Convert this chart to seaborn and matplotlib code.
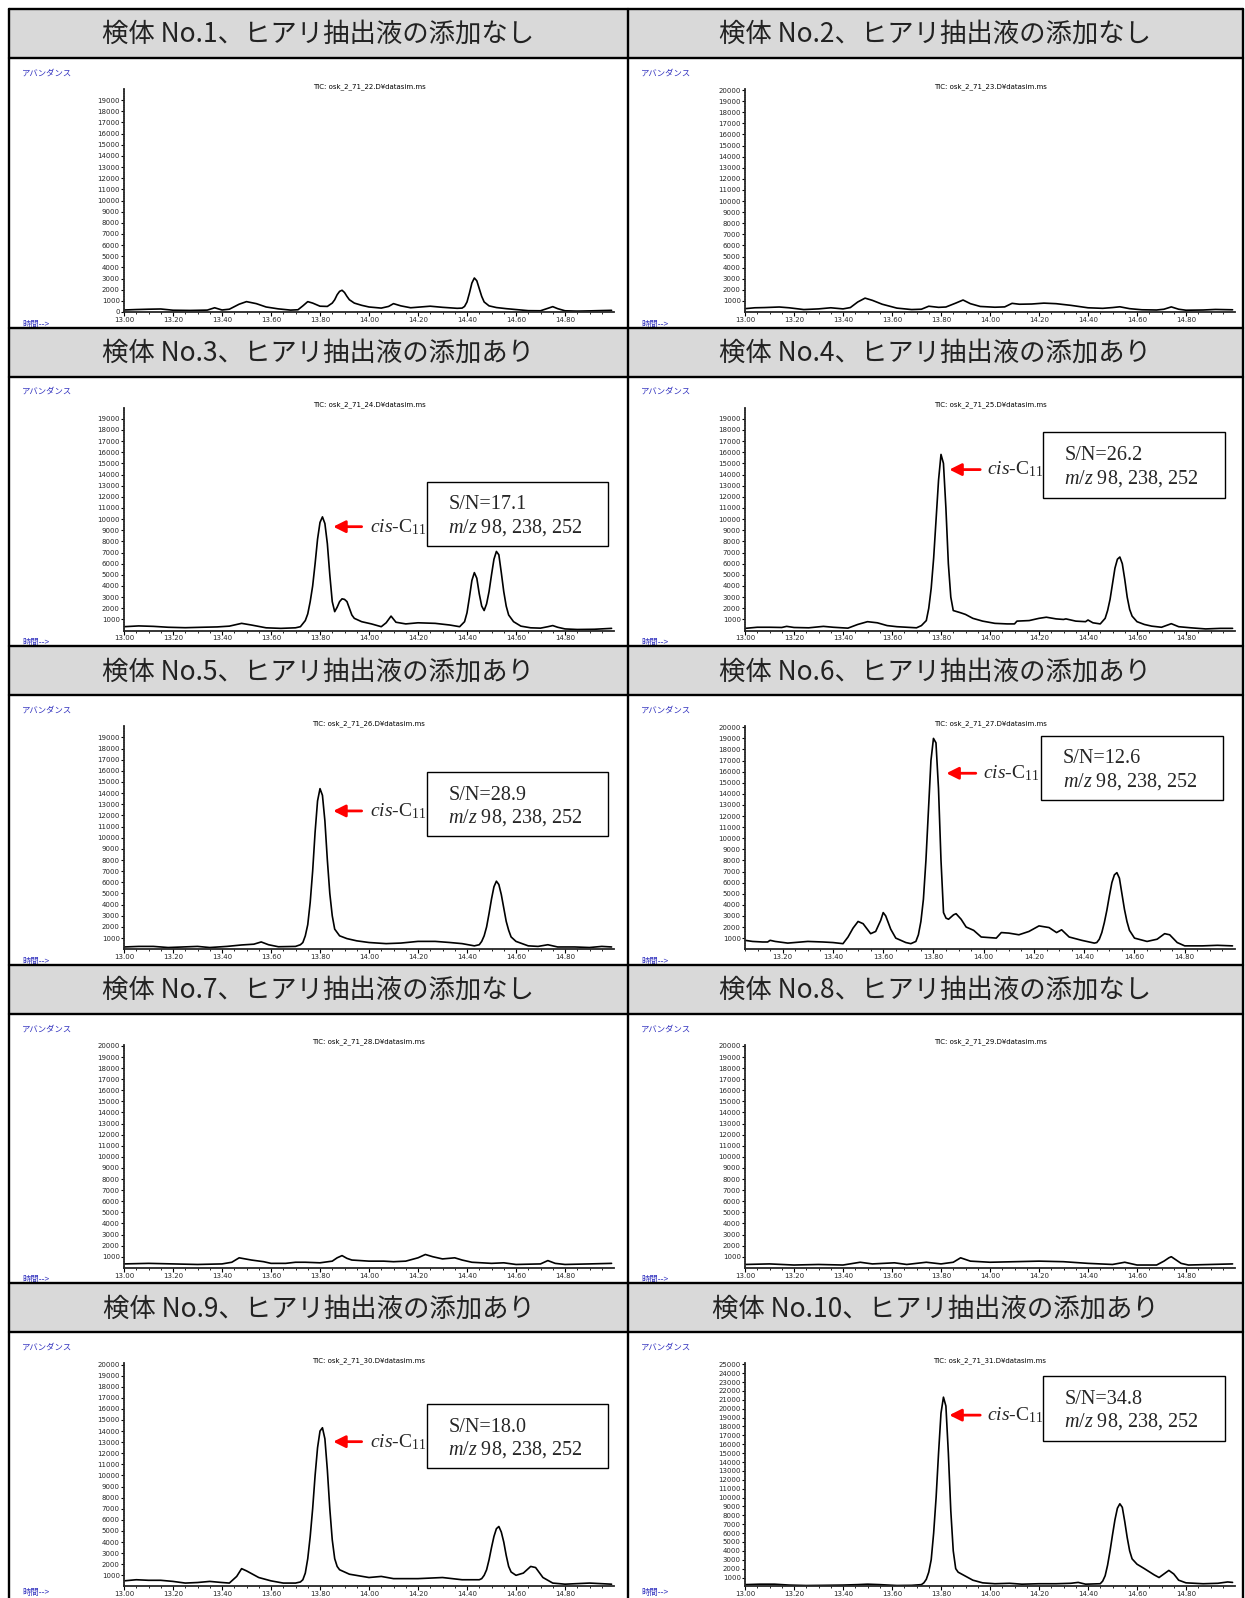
import matplotlib
matplotlib.use("Agg")
import matplotlib.pyplot as plt
import seaborn as sns
from matplotlib.lines import Line2D
from matplotlib.patches import Rectangle
from matplotlib.ticker import MultipleLocator, FixedLocator, FormatStrFormatter

# --- chromatogram traces (retention time [min], abundance) ---
trace_01 = [(13.00, 180), (13.05, 220), (13.10, 250), (13.15, 270), (13.20, 160), (13.27, 140),
            (13.34, 170), (13.37, 380), (13.40, 180), (13.43, 250), (13.47, 700), (13.50, 930),
            (13.54, 750), (13.58, 450), (13.63, 280), (13.68, 170), (13.71, 200), (13.73, 550),
            (13.75, 930), (13.77, 800), (13.80, 520), (13.83, 500), (13.85, 800), (13.86, 1100),
            (13.87, 1550), (13.88, 1850), (13.89, 1950), (13.90, 1750), (13.91, 1400), (13.92, 1100),
            (13.94, 800), (13.97, 600), (14.00, 450), (14.05, 350), (14.08, 500), (14.10, 750),
            (14.13, 550), (14.17, 380), (14.21, 450), (14.25, 520), (14.30, 420), (14.36, 330),
            (14.38, 350), (14.39, 500), (14.40, 900), (14.41, 1700), (14.42, 2600), (14.43, 3050),
            (14.44, 2800), (14.45, 2100), (14.46, 1400), (14.47, 900), (14.49, 550), (14.52, 400),
            (14.56, 300), (14.60, 220), (14.65, 120), (14.70, 110), (14.73, 330), (14.75, 480),
            (14.77, 300), (14.80, 110), (14.85, 80), (14.90, 100), (14.95, 130), (14.99, 150)]
trace_02 = [(13.00, 300), (13.04, 380), (13.08, 400), (13.14, 450), (13.18, 380), (13.24, 220),
            (13.30, 280), (13.35, 380), (13.40, 280), (13.43, 400), (13.46, 900), (13.49, 1250),
            (13.52, 1050), (13.56, 700), (13.62, 350), (13.68, 220), (13.72, 250), (13.75, 520),
            (13.79, 420), (13.82, 450), (13.86, 800), (13.89, 1080), (13.92, 750), (13.96, 500),
            (14.02, 430), (14.06, 460), (14.09, 780), (14.12, 700), (14.17, 720), (14.22, 800),
            (14.27, 750), (14.33, 600), (14.40, 380), (14.46, 330), (14.50, 400), (14.53, 470),
            (14.57, 300), (14.62, 200), (14.68, 180), (14.71, 250), (14.74, 460), (14.77, 250),
            (14.80, 160), (14.87, 180), (14.92, 230), (14.99, 200)]
trace_03 = [(13.00, 350), (13.06, 420), (13.12, 380), (13.18, 300), (13.25, 260), (13.32, 300),
            (13.38, 330), (13.43, 400), (13.48, 650), (13.52, 500), (13.58, 250), (13.64, 200),
            (13.70, 250), (13.72, 350), (13.74, 900), (13.75, 1500), (13.76, 2600), (13.77, 4000),
            (13.78, 6000), (13.79, 8200), (13.80, 9700), (13.81, 10200), (13.82, 9600), (13.83, 7800),
            (13.84, 5000), (13.85, 2600), (13.86, 1700), (13.87, 2100), (13.88, 2600), (13.89, 2850),
            (13.90, 2800), (13.91, 2600), (13.92, 2000), (13.93, 1400), (13.94, 1100), (13.97, 800),
            (14.01, 600), (14.05, 350), (14.07, 700), (14.09, 1300), (14.11, 750), (14.15, 600),
            (14.20, 700), (14.27, 650), (14.33, 500), (14.37, 350), (14.39, 800), (14.40, 1600),
            (14.41, 3000), (14.42, 4500), (14.43, 5200), (14.44, 4700), (14.45, 3300), (14.46, 2200),
            (14.47, 1800), (14.48, 2400), (14.49, 3500), (14.50, 5000), (14.51, 6400), (14.52, 7100),
            (14.53, 6800), (14.54, 5200), (14.55, 3500), (14.56, 2200), (14.57, 1400), (14.59, 800),
            (14.62, 400), (14.66, 250), (14.70, 220), (14.73, 350), (14.75, 450), (14.77, 300),
            (14.80, 150), (14.85, 100), (14.92, 120), (14.99, 200)]
trace_04 = [(13.00, 200), (13.05, 300), (13.10, 300), (13.15, 280), (13.17, 380), (13.20, 280),
            (13.26, 250), (13.32, 380), (13.36, 300), (13.42, 220), (13.46, 550), (13.50, 800),
            (13.54, 700), (13.58, 450), (13.62, 350), (13.66, 300), (13.70, 250), (13.72, 450),
            (13.74, 900), (13.75, 2000), (13.76, 3800), (13.77, 6500), (13.78, 10000), (13.79, 13500),
            (13.80, 15800), (13.81, 15000), (13.82, 11000), (13.83, 6000), (13.84, 3000), (13.85, 1800),
            (13.88, 1600), (13.90, 1450), (13.93, 1100), (13.97, 850), (14.02, 650), (14.07, 600),
            (14.10, 600), (14.11, 850), (14.16, 900), (14.20, 1100), (14.23, 1200), (14.27, 1050),
            (14.30, 1000), (14.31, 1050), (14.35, 850), (14.39, 800), (14.40, 950), (14.42, 700),
            (14.45, 600), (14.47, 1100), (14.48, 1800), (14.49, 2800), (14.50, 4200), (14.51, 5600),
            (14.52, 6400), (14.53, 6600), (14.54, 6000), (14.55, 4600), (14.56, 3000), (14.57, 1900),
            (14.58, 1300), (14.60, 800), (14.63, 550), (14.66, 400), (14.70, 300), (14.74, 620),
            (14.77, 350), (14.82, 250), (14.88, 150), (14.94, 200), (14.99, 200)]
trace_05 = [(13.00, 200), (13.06, 250), (13.12, 250), (13.18, 150), (13.24, 200), (13.30, 250),
            (13.35, 150), (13.42, 250), (13.48, 380), (13.53, 450), (13.56, 650), (13.59, 400),
            (13.63, 220), (13.70, 250), (13.72, 400), (13.73, 600), (13.74, 1200), (13.75, 2200),
            (13.76, 4200), (13.77, 7000), (13.78, 10500), (13.79, 13300), (13.80, 14400),
            (13.81, 13800), (13.82, 11500), (13.83, 8000), (13.84, 5000), (13.85, 3000), (13.86, 1800),
            (13.88, 1200), (13.91, 950), (13.95, 750), (14.00, 600), (14.07, 500), (14.13, 550),
            (14.20, 700), (14.27, 700), (14.33, 600), (14.38, 500), (14.43, 300), (14.45, 400),
            (14.46, 700), (14.47, 1200), (14.48, 2000), (14.49, 3200), (14.50, 4500), (14.51, 5600),
            (14.52, 6100), (14.53, 5800), (14.54, 4900), (14.55, 3700), (14.56, 2500), (14.57, 1700),
            (14.58, 1100), (14.60, 700), (14.65, 300), (14.69, 250), (14.73, 400), (14.77, 200),
            (14.84, 200), (14.90, 150), (14.95, 250), (14.99, 200)]
trace_06 = [(13.05, 800), (13.08, 700), (13.12, 650), (13.14, 650), (13.15, 800), (13.17, 700),
            (13.22, 550), (13.30, 700), (13.36, 650), (13.40, 600), (13.44, 500), (13.46, 1100),
            (13.48, 1900), (13.50, 2500), (13.52, 2300), (13.54, 1700), (13.55, 1400), (13.57, 1600),
            (13.59, 2600), (13.60, 3300), (13.61, 3000), (13.62, 2400), (13.63, 1800), (13.65, 1000),
            (13.69, 600), (13.71, 500), (13.73, 700), (13.74, 1300), (13.75, 2500), (13.76, 4500),
            (13.77, 8000), (13.78, 12500), (13.79, 17000), (13.80, 19000), (13.81, 18600),
            (13.82, 14500), (13.83, 8000), (13.84, 3300), (13.85, 2800), (13.86, 2700), (13.88, 3100),
            (13.89, 3200), (13.91, 2700), (13.93, 2000), (13.96, 1700), (13.99, 1100), (14.05, 1000),
            (14.07, 1500), (14.10, 1450), (14.14, 1300), (14.18, 1600), (14.22, 2100), (14.26, 1950),
            (14.29, 1500), (14.31, 1750), (14.34, 1100), (14.39, 800), (14.44, 550), (14.45, 600),
            (14.46, 900), (14.47, 1500), (14.48, 2400), (14.49, 3500), (14.50, 4800), (14.51, 6000),
            (14.52, 6700), (14.53, 6900), (14.54, 6400), (14.55, 5000), (14.56, 3600), (14.57, 2500),
            (14.58, 1700), (14.60, 1000), (14.65, 700), (14.69, 900), (14.72, 1400), (14.74, 1300),
            (14.77, 600), (14.80, 300), (14.87, 300), (14.93, 350), (14.99, 300)]
trace_07 = [(13.00, 350), (13.10, 400), (13.20, 350), (13.30, 300), (13.40, 350), (13.44, 500),
            (13.47, 900), (13.52, 700), (13.57, 550), (13.60, 400), (13.66, 400), (13.70, 500),
            (13.74, 500), (13.80, 450), (13.85, 600), (13.87, 900), (13.89, 1100), (13.91, 850),
            (13.93, 700), (14.00, 600), (14.06, 600), (14.10, 550), (14.15, 600), (14.20, 900),
            (14.23, 1200), (14.26, 1000), (14.30, 800), (14.35, 900), (14.38, 700), (14.42, 500),
            (14.50, 400), (14.55, 450), (14.60, 300), (14.70, 350), (14.73, 650), (14.76, 400),
            (14.80, 300), (14.90, 350), (14.99, 400)]
trace_08 = [(13.00, 300), (13.10, 350), (13.20, 250), (13.30, 300), (13.40, 250), (13.47, 500),
            (13.52, 350), (13.61, 450), (13.66, 300), (13.74, 500), (13.80, 350), (13.85, 500),
            (13.88, 900), (13.92, 600), (14.00, 500), (14.10, 550), (14.20, 600), (14.30, 550),
            (14.40, 400), (14.50, 300), (14.55, 500), (14.60, 250), (14.68, 250), (14.71, 600),
            (14.73, 900), (14.74, 1000), (14.76, 700), (14.78, 400), (14.81, 250), (14.90, 300),
            (14.99, 350)]
trace_09 = [(13.00, 500), (13.05, 600), (13.10, 550), (13.15, 550), (13.20, 450), (13.25, 300),
            (13.30, 350), (13.35, 450), (13.40, 350), (13.43, 300), (13.46, 900), (13.48, 1600),
            (13.50, 1400), (13.55, 800), (13.60, 500), (13.65, 300), (13.70, 300), (13.72, 400),
            (13.73, 600), (13.74, 1200), (13.75, 2500), (13.76, 4500), (13.77, 7000), (13.78, 10000),
            (13.79, 12500), (13.80, 14000), (13.81, 14300), (13.82, 13300), (13.83, 10500),
            (13.84, 7000), (13.85, 4200), (13.86, 2500), (13.87, 1800), (13.88, 1500), (13.92, 1100),
            (14.00, 800), (14.05, 900), (14.10, 700), (14.20, 700), (14.30, 800), (14.38, 600),
            (14.45, 600), (14.46, 700), (14.47, 1000), (14.48, 1500), (14.49, 2400), (14.50, 3500),
            (14.51, 4500), (14.52, 5200), (14.53, 5400), (14.54, 4900), (14.55, 4000), (14.56, 2800),
            (14.57, 1800), (14.58, 1300), (14.60, 1000), (14.63, 1200), (14.66, 1800), (14.68, 1700),
            (14.71, 800), (14.75, 300), (14.80, 200), (14.90, 300), (14.99, 200)]
trace_10 = [(13.00, 200), (13.06, 250), (13.12, 250), (13.18, 150), (13.25, 100), (13.32, 120),
            (13.40, 150), (13.46, 200), (13.50, 250), (13.55, 200), (13.62, 100), (13.68, 120),
            (13.72, 200), (13.73, 400), (13.74, 800), (13.75, 1600), (13.76, 3000), (13.77, 6000),
            (13.78, 10000), (13.79, 15000), (13.80, 19500), (13.81, 21300), (13.82, 20300),
            (13.83, 15000), (13.84, 8500), (13.85, 4000), (13.86, 2000), (13.87, 1600), (13.89, 1300),
            (13.93, 700), (13.97, 400), (14.02, 300), (14.08, 350), (14.13, 250), (14.20, 300),
            (14.27, 300), (14.33, 350), (14.36, 450), (14.39, 250), (14.45, 300), (14.46, 600),
            (14.47, 1200), (14.48, 2400), (14.49, 4000), (14.50, 5800), (14.51, 7500), (14.52, 8800),
            (14.53, 9300), (14.54, 8900), (14.55, 7300), (14.56, 5500), (14.57, 4000), (14.58, 3100),
            (14.60, 2500), (14.63, 2000), (14.67, 1300), (14.69, 1000), (14.71, 1400), (14.73, 1800),
            (14.75, 1400), (14.77, 700), (14.80, 400), (14.87, 300), (14.93, 350), (14.97, 500),
            (14.99, 450)]

traces = [trace_01, trace_02, trace_03, trace_04, trace_05,
          trace_06, trace_07, trace_08, trace_09, trace_10]
sample_no = [1, 2, 3, 4, 5, 6, 7, 8, 9, 10]
spiked = [False, False, True, True, True, True, False, False, True, True]
file_no = [22, 23, 24, 25, 26, 27, 28, 29, 30, 31]
sn_ratio = [None, None, "17.1", "26.2", "28.9", "12.6", None, None, "18.0", "34.8"]
mz_ions = [98, 238, 252]
ytick_top = [19000, 20000, 19000, 19000, 19000, 20000, 20000, 20000, 20000, 25000]
t_start = [13.00, 13.00, 13.00, 13.00, 13.00, 13.05, 13.00, 13.00, 13.00, 13.00]
time_ticks = [13.00, 13.20, 13.40, 13.60, 13.80, 14.00, 14.20, 14.40, 14.60, 14.80]

# --- layout (pixels of the 1245x1598 canvas) ---
W, H = 1245, 1598
GRID_X = [9, 628, 1243]
ROW_TOP, ROW_H, HEAD_H = 9, 318.6, 49
# annotation layout in axes fraction: arrow y, box bottom, box top
note_pos = {2: (0.466, 0.379, 0.667), 3: (0.722, 0.594, 0.891), 4: (0.620, 0.506, 0.794),
            5: (0.789, 0.670, 0.958), 8: (0.649, 0.530, 0.818), 9: (0.768, 0.654, 0.942)}

sns.set_theme(style="ticks")
plt.rcParams["font.family"] = ["DejaVu Sans", "Noto Sans CJK JP"]
plt.rcParams["mathtext.fontset"] = "custom"
plt.rcParams["mathtext.rm"] = "Liberation Serif"
plt.rcParams["mathtext.it"] = "Liberation Serif:italic"

fig = plt.figure(figsize=(W / 100, H / 100), dpi=100)
fig.patch.set_facecolor("white")


def fx(px):
    return px / W


def fy(py):
    return 1 - py / H


for i, trace in enumerate(traces):
    row, col = divmod(i, 2)
    head_top = ROW_TOP + row * ROW_H
    plot_top = head_top + HEAD_H
    x0 = GRID_X[col]
    x1 = GRID_X[col + 1]

    # header cell
    fig.add_artist(Rectangle((fx(x0), fy(head_top + HEAD_H)), fx(x1 - x0), HEAD_H / H,
                             facecolor="#d9d9d9", edgecolor="none", zorder=0))
    label = f"検体 No.{sample_no[i]}、ヒアリ抽出液の添加{'あり' if spiked[i] else 'なし'}"
    fig.text(fx((x0 + x1) / 2), fy(head_top + HEAD_H / 2 + 1), label, ha="center", va="center",
             fontsize=19, color="#222222", family=["Noto Sans CJK JP"])

    # small labels of the instrument printout
    fig.text(fx(x0 + 13), fy(plot_top + 15), "アバンダンス", ha="left", va="center",
             fontsize=6, color="#3535c0", family=["Noto Sans CJK JP"])
    y_time = min(plot_top + 266, H - 5)
    fig.text(fx(x0 + 13), fy(y_time), "時間-->", ha="left", va="center",
             fontsize=6, color="#3535c0", family=["Noto Sans CJK JP", "DejaVu Sans"])

    ax_left = x0 + (115 if col == 0 else 117)
    ax = fig.add_axes([fx(ax_left), fy(plot_top + 254), 490 / W, 223 / H])
    t = [p[0] for p in trace]
    a = [p[1] for p in trace]
    sns.lineplot(x=t, y=a, ax=ax, color="black", linewidth=1.2,
                 estimator=None, sort=False, legend=False)

    ax.set_xlim(t_start[i], 15.0)
    ymax = ytick_top[i] + (100 if ytick_top[i] >= 20000 else 1000)
    ax.set_ylim(0, ymax)
    sns.despine(ax=ax)
    ax.spines["left"].set_linewidth(1.3)
    ax.spines["bottom"].set_linewidth(1.3)
    ax.set_facecolor("white")

    ax.xaxis.set_major_locator(FixedLocator(time_ticks))
    ax.xaxis.set_minor_locator(FixedLocator([13.0 + 0.05 * k for k in range(40)]))
    ax.xaxis.set_major_formatter(FormatStrFormatter("%.2f"))
    yticks = list(range(0 if i == 0 else 1000, ytick_top[i] + 1, 1000))
    ax.yaxis.set_major_locator(FixedLocator(yticks))
    ax.yaxis.set_minor_locator(MultipleLocator(200))
    ax.tick_params(axis="x", which="major", direction="out", length=3, width=0.8,
                   labelsize=5, pad=0.5, color="black")
    ax.tick_params(axis="x", which="minor", direction="out", length=1.6, width=0.6, color="black")
    ax.tick_params(axis="y", which="major", direction="out", length=2, width=0.8,
                   labelsize=5, pad=1, color="black")
    ax.tick_params(axis="y", which="minor", direction="out", length=1, width=0.5, color="black")
    ax.set_xlabel("")
    ax.set_ylabel("")

    ax.text(0.5, 1.012, f"TIC: osk_2_71_{file_no[i]}.D¥datasim.ms", transform=ax.transAxes,
            ha="center", va="center", fontsize=5, color="black")

    if sn_ratio[i] is not None:
        ay, by0, by1 = note_pos[i]
        if i == 5:
            head_x, tail_x, text_x, bx0, bx1 = 0.411, 0.471, 0.486, 0.604, 0.975
        elif col == 1:
            head_x, tail_x, text_x, bx0, bx1 = 0.417, 0.480, 0.494, 0.608, 0.979
        else:
            head_x, tail_x, text_x, bx0, bx1 = 0.427, 0.485, 0.502, 0.618, 0.988
        ax.annotate("", xy=(head_x, ay), xytext=(tail_x, ay), xycoords="axes fraction",
                    textcoords="axes fraction",
                    arrowprops=dict(arrowstyle="-|>,head_length=0.6,head_width=0.3",
                                    color="red", lw=2.0, shrinkA=0, shrinkB=0))
        ax.text(text_x, ay, r"$\mathit{cis}$-C$_{\mathrm{11}}$", transform=ax.transAxes,
                ha="left", va="center", fontsize=14, family="Liberation Serif")
        ax.add_patch(Rectangle((bx0, by0), bx1 - bx0, by1 - by0, transform=ax.transAxes,
                               facecolor="white", edgecolor="black", lw=1.0, clip_on=False,
                               zorder=3))
        bh = by1 - by0
        ax.text(bx0 + 0.044, by1 - 0.36 * bh, f"S/N={sn_ratio[i]}", transform=ax.transAxes,
                ha="left", va="center", fontsize=14.5, family="Liberation Serif", zorder=4)
        ions = ", ".join(str(m) for m in mz_ions)
        ax.text(bx0 + 0.044, by1 - 0.71 * bh, r"$\mathit{m/z}$ " + ions, transform=ax.transAxes,
                ha="left", va="center", fontsize=14.5, family="Liberation Serif", zorder=4)

# table grid lines
for r in range(5):
    top = ROW_TOP + r * ROW_H
    for yy in (top, top + HEAD_H):
        fig.add_artist(Line2D([fx(GRID_X[0]), fx(GRID_X[2])], [fy(yy), fy(yy)],
                              color="black", lw=1.7, zorder=10))
for xx in GRID_X:
    fig.add_artist(Line2D([fx(xx), fx(xx)], [fy(ROW_TOP), 0], color="black", lw=1.7, zorder=10))

fig.savefig("out.png", dpi=100, facecolor="white")
